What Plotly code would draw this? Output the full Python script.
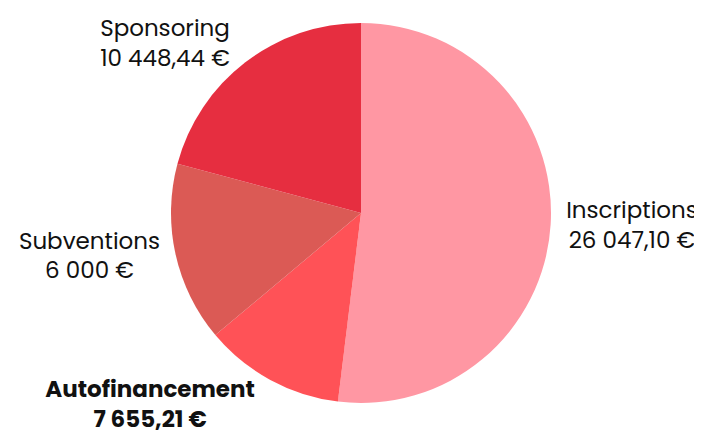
import plotly.graph_objects as go

# Slices, in clockwise order from 12 o'clock, as drawn in the reference
labels = ["Inscriptions", "Autofinancement", "Subventions", "Sponsoring"]
slice_values = [26047.10, 6000.00, 7655.21, 10448.44]   # sizes of the drawn slices
label_amounts = [26047.10, 7655.21, 6000.00, 10448.44]  # amounts printed in the labels
colors = ["#FF97A3", "#FF5257", "#DB5A55", "#E62E40"]
highlight = "Autofinancement"


def fr(v):
    if abs(v - round(v)) < 1e-9:
        s = f"{int(round(v)):,}".replace(",", " ")
    else:
        s = f"{v:,.2f}".replace(",", " ").replace(".", ",")
    return s + " €"


texts = []
for l, v in zip(labels, label_amounts):
    if l == highlight:
        texts.append(f"<b>{l}</b><br><b>{fr(v)}</b>")
    else:
        texts.append(f"{l}<br>{fr(v)}")

fig = go.Figure(go.Pie(
    labels=labels,
    values=slice_values,
    text=texts,
    texttemplate="%{text}",
    textposition="outside",
    sort=False,
    direction="clockwise",
    rotation=0,
    automargin=False,
    marker=dict(colors=colors, line=dict(width=0)),
    outsidetextfont=dict(color="#111111", size=23, family="Poppins, Open Sans, sans-serif"),
    showlegend=False,
    hoverinfo="skip",
))
fig.update_layout(
    width=702, height=439,
    margin=dict(l=10, r=6, t=15, b=44),
    paper_bgcolor="white",
    plot_bgcolor="white",
)
fig.write_html("out.html")
